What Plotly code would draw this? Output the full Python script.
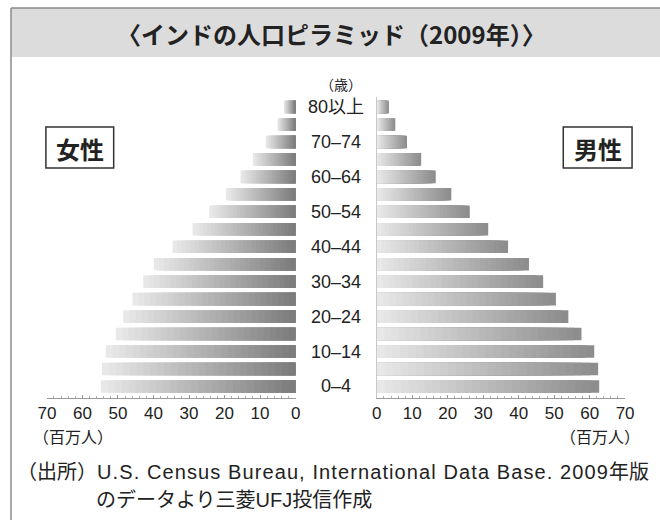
import plotly.graph_objects as go
import numpy as np

# ---- data ----
age_groups = ["0–4", "5–9", "10–14", "15–19", "20–24", "25–29", "30–34", "35–39",
              "40–44", "45–49", "50–54", "55–59", "60–64", "65–69", "70–74", "75–79", "80以上"]
female = [54.8, 54.5, 53.4, 50.6, 48.5, 45.9, 42.9, 39.9, 34.6, 29.0, 24.3, 19.6,
          15.5, 12.0, 8.4, 5.1, 3.3]
male = [62.7, 62.4, 61.3, 57.7, 54.0, 50.5, 46.9, 42.9, 37.0, 31.4, 26.2, 21.0,
        16.6, 12.5, 8.5, 5.2, 3.4]
x_ticks = [0, 10, 20, 30, 40, 50, 60, 70]
title_text = "〈インドの人口ピラミッド（2009年）〉"
source_pre = "（出所）"
source_latin = "U.S. Census Bureau, International Data Base. 2009"
source_post = "年版"
source_line2 = "のデータより三菱UFJ投信作成"

W, H = 660, 520
JP = "Noto Sans CJK JP"
NUM = "Liberation Sans, Noto Sans CJK JP"

# the page shows the paper 644 px wide starting 8 px from the left
def px(x):
    return (x - 8) / 644.0

def py(y):
    return 1 - y / H

fig = go.Figure()

N = 28
light = np.array([232, 232, 232])
dark = np.array([125, 125, 125])
yidx = list(range(len(age_groups)))

def col(t):
    c = light + (dark - light) * t
    return "rgb(%d,%d,%d)" % tuple(c.astype(int))

# female (left): outer light -> center dark
for k in range(N):
    frac = (N - k) / N
    fig.add_trace(go.Bar(
        x=[v * frac for v in female], y=yidx, orientation="h",
        xaxis="x", yaxis="y", width=0.72,
        marker=dict(color=col(k / (N - 1)), line=dict(width=0)),
        showlegend=False, hoverinfo="skip"))

# male (right): center light -> outer dark
for k in range(N):
    frac = (N - k) / N
    fig.add_trace(go.Bar(
        x=[v * frac for v in male], y=yidx, orientation="h",
        xaxis="x2", yaxis="y2", width=0.72,
        marker=dict(color=col(0.85 * (1 - k / (N - 1))), line=dict(width=0)),
        showlegend=False, hoverinfo="skip"))

yr = [-0.66, 16.6]
ydom = [py(398), py(96.5)]
axis_common = dict(
    tickvals=x_ticks, ticktext=[str(t) for t in x_ticks],
    showline=True, linecolor="#9a9a9a", linewidth=1,
    ticks="inside", ticklen=3, tickcolor="#9a9a9a",
    minor=dict(ticks="inside", ticklen=2, dtick=2, tickcolor="#b0b0b0"),
    showgrid=False, zeroline=False,
    tickfont=dict(family=NUM, size=17, color="#222"),
    fixedrange=True,
)

fig.update_layout(
    width=W, height=H, autosize=False,
    margin=dict(l=0, r=0, t=0, b=0, pad=0),
    paper_bgcolor="white", plot_bgcolor="white",
    barmode="overlay",
    xaxis=dict(domain=[px(46), px(295.5)], range=[70, 0], anchor="y", **axis_common),
    xaxis2=dict(domain=[px(377), px(626)], range=[0, 70], anchor="y2", **axis_common),
    yaxis=dict(domain=ydom, range=yr, anchor="x", side="right", showticklabels=False,
               showline=False, showgrid=False, zeroline=False, ticks=""),
    yaxis2=dict(domain=ydom, range=yr, anchor="x2", side="left", showticklabels=False,
                showline=True, linecolor="#c8c8c8", linewidth=1,
                showgrid=False, zeroline=False, ticks=""),
)

shapes = []
# title band and frame
shapes.append(dict(type="rect", xref="paper", yref="paper",
                   x0=px(10), x1=1.02, y0=py(57), y1=py(8),
                   fillcolor="#dcdcdc", line=dict(width=0), layer="below"))
shapes.append(dict(type="line", xref="paper", yref="paper",
                   x0=px(10), x1=1.02, y0=py(8), y1=py(8),
                   line=dict(color="#8a8a8a", width=1.5)))
shapes.append(dict(type="line", xref="paper", yref="paper",
                   x0=px(10), x1=px(10), y0=py(8), y1=-0.01,
                   line=dict(color="#8a8a8a", width=1.5)))
# label boxes
for (x0, x1) in [(45, 113), (564, 633)]:
    shapes.append(dict(type="rect", xref="paper", yref="paper",
                       x0=px(x0), x1=px(x1), y0=py(168), y1=py(127),
                       line=dict(color="#333", width=1.5), fillcolor="rgba(0,0,0,0)"))
fig.update_layout(shapes=shapes)

def A(text, x, y, size, family=JP, xanchor="center", yref="paper"):
    return dict(text=text, x=x, y=y, xref="paper", yref=yref, showarrow=False,
                xanchor=xanchor, yanchor="middle",
                font=dict(family=family, size=size, color="#222"))

ann = []
ann.append(A("<b>" + title_text + "</b>", px(332), py(33), 24))
ann.append(A("<b>女性</b>", px(79), py(148), 24))
ann.append(A("<b>男性</b>", px(598.5), py(148), 24))
ann.append(A("（歳）", px(341), py(84), 14))
for i, lab in enumerate(age_groups):
    if i % 2 == 0:
        ann.append(A(lab, px(336), i, 18, family=NUM, yref="y"))
ann.append(A("（百万人）", px(72), py(436), 16))
ann.append(A("（百万人）", px(601), py(436), 16))
line1 = (source_pre + '<span style="letter-spacing:1.1px">' + source_latin + "</span>"
         + source_post)
ann.append(A(line1, px(14), py(472), 20, family=NUM, xanchor="left"))
ann.append(A(source_line2, px(93), py(500), 20, family=NUM, xanchor="left"))
fig.update_layout(annotations=ann)

fig.write_html("out.html",
               config={"responsive": False, "displayModeBar": False},
               default_width="660px", default_height="520px",
               post_script="document.body.style.margin='0';document.body.style.overflow='hidden';")
